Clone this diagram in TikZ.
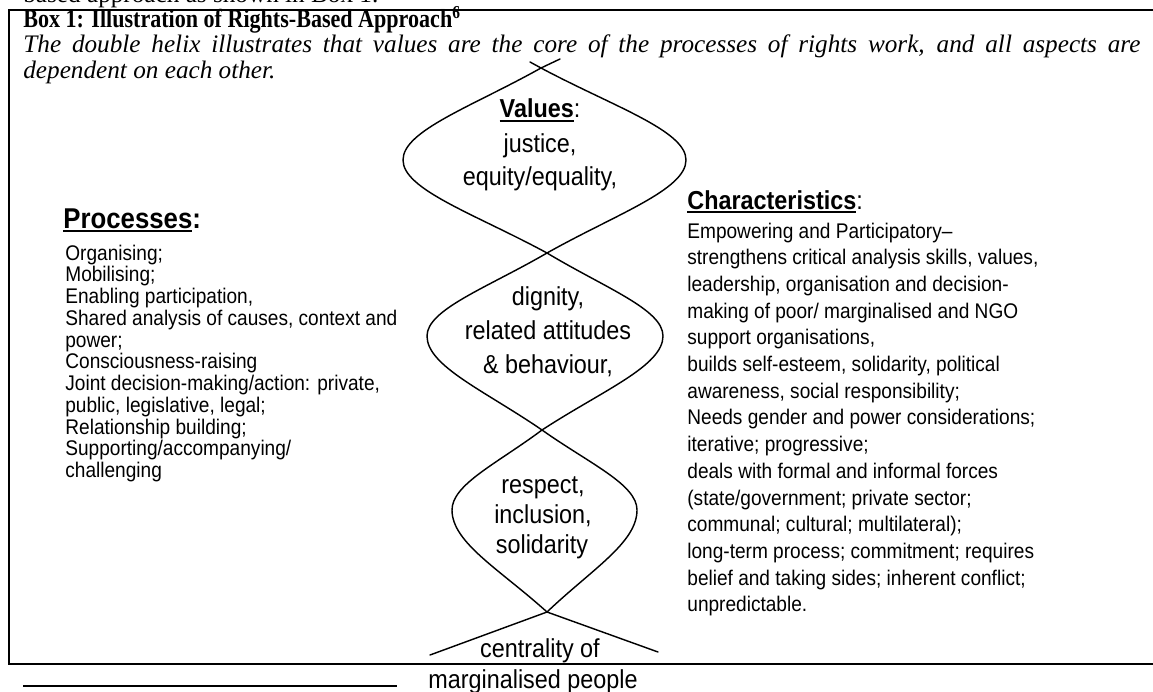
\documentclass[tikz,border=0pt]{standalone}
\usepackage{fontspec}
\setmainfont{Liberation Serif}
\newfontfamily\titlefont[FakeStretch=0.85]{Liberation Serif}
\newfontfamily\arialfont[FakeStretch=0.9]{Liberation Sans}
\usetikzlibrary{calc}

% underline for the bold headings
\newcommand{\ulword}[1]{\setbox0=\hbox{#1}\rlap{\rule[-2.2pt]{\wd0}{0.9pt}}\box0}

\tikzset{
	helix/.style={line width=0.75pt, line cap=round},
	frame/.style={line width=1.3pt},
	serif/.style={anchor=base west, inner sep=0pt, font=\fontsize{13.2}{15}\selectfont},
	listtext/.style={anchor=base west, inner sep=0pt, font=\arialfont\fontsize{11.1}{13}\selectfont},
	helixtext/.style={anchor=base, inner sep=0pt, font=\arialfont\fontsize{13.6}{16}\selectfont},
	heading/.style={anchor=base west, inner sep=0pt, font=\arialfont\fontsize{13.6}{16}\selectfont},
}

\begin{document}
\begin{tikzpicture}[x=0.5236pt, y=-0.5236pt]

	\clip (0,0) rectangle (1153,692);

	% ---- frame and footnote rule

	\draw[frame] (1160,10) -| (9,664) -- (1160,664);
	\draw[line width=0.8pt] (23,686) -- (397,686);

	% ---- text above and inside the frame

	\node[serif] (lead) at (23,3) {based approach as shown in Box 1.};
	\node[serif, font=\titlefont\bfseries\fontsize{13.6}{16}\selectfont] (title) at (23,28)
		{Box 1: Illustration of Rights-Based Approach\textsuperscript{6}};
	\node[serif, font=\itshape\fontsize{13.2}{15}\selectfont] (intro1) at (23,53)
		{\makebox[584.9pt][s]{The double helix illustrates that values are the core of the processes of rights work, and all aspects are}};
	\node[serif, font=\itshape\fontsize{13.2}{15}\selectfont] (intro2) at (23,79)
		{dependent on each other.};

	% ---- helix: one lobe per crossing pair

	\foreach \xa/\ya/\xl/\xr/\ym/\xb/\yb in {541/68/403/686/160/547/253, 547/253/427/663/336/542/430, 542/430/452/637/510/547/612} {
		\foreach \xe in {\xl,\xr} {
			\draw[helix] (\xa,\ya)
				.. controls +({0.5*(\xe-\xa)},{0.42*(\ym-\ya)}) and +(0,{-0.32*(\ym-\ya)}) .. (\xe,\ym)
				.. controls +(0,{0.32*(\yb-\ym)}) and +({0.5*(\xe-\xb)},{-0.42*(\yb-\ym)}) .. (\xb,\yb);
		}
	}

	\coordinate (top) at (541,68);
	\coordinate (bot) at (547,612);

	\draw[helix] (530,62) -- (top) -- (560,59);
	\draw[helix] (430,655) -- (bot) -- (658,652);

	% ---- helix labels

	\node[helixtext] (val1) at (540,118) {\ulword{\bfseries Values}:};
	\node[helixtext] (val2) at (540,153) {justice,};
	\node[helixtext] (val3) at (540,185) {equity/equality,};

	\node[helixtext] (dig1) at (548,305) {dignity,};
	\node[helixtext] (dig2) at (548,339) {related attitudes};
	\node[helixtext] (dig3) at (548,373) {\& behaviour,};

	\node[helixtext] (res1) at (543,493) {respect,};
	\node[helixtext] (res2) at (543,523) {inclusion,};
	\node[helixtext] (res3) at (542,553) {solidarity};

	\node[helixtext] (cen1) at (540,657) {centrality of};
	\node[helixtext] (cen2) at (533,688) {marginalised people};

	% ---- processes

	\node[heading, font=\arialfont\fontsize{15}{18}\selectfont] (prochead) at (63,228)
		{\ulword{\bfseries Processes}\textbf{:}};

	\foreach \t [count=\i from 0] in {Organising;, Mobilising;, {Enabling participation,},
		{Shared analysis of causes, context and}, power;, Consciousness-raising,
		{Joint decision-making/action: private,}, {public, legislative, legal;},
		Relationship building;, Supporting/accompanying/, challenging} {
		\node[listtext] (proc\i) at (65,{260+21.75*\i}) {\t};
	}

	% ---- characteristics

	\node[heading] (charhead) at (687,209) {\ulword{\bfseries Characteristics}:};

	\foreach \t [count=\i from 0] in {Empowering and Participatory–,
		{strengthens critical analysis skills, values,},
		{leadership, organisation and decision-},
		{making of poor/ marginalised and NGO},
		{support organisations,},
		{builds self-esteem, solidarity, political},
		{awareness, social responsibility;},
		{Needs gender and power considerations;},
		{iterative; progressive;},
		{deals with formal and informal forces},
		{(state/government; private sector;},
		{communal; cultural; multilateral);},
		{long-term process; commitment; requires},
		{belief and taking sides; inherent conflict;},
		{unpredictable.}} {
		\node[listtext] (char\i) at (687,{238+26.7*\i}) {\t};
	}

\end{tikzpicture}
\end{document}
